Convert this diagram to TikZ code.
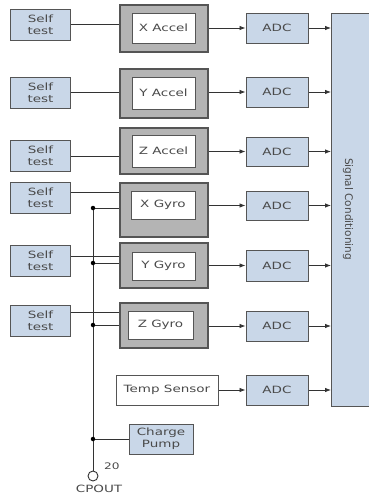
\documentclass[tikz,border=0pt]{standalone}
\usepackage{fontspec}
\setmainfont{DejaVu Sans}[FakeStretch=1.35]
\newfontfamily\plainfont{DejaVu Sans}
\usetikzlibrary{arrows.meta}
\definecolor{bluef}{HTML}{C9D7E8}
\definecolor{grayf}{HTML}{B4B4B4}
\definecolor{bordc}{HTML}{555555}
\definecolor{txtc}{HTML}{4A4A4A}
\definecolor{linec}{HTML}{333333}
\tikzset{
  base/.style={draw=bordc, line width=1pt, inner sep=0pt, text=txtc, align=center,
    font=\fontsize{10}{12}\selectfont},
  stbox/.style={base, fill=bluef},
  outerbox/.style={draw=bordc, fill=grayf, line width=1.3pt, inner sep=0pt},
  innerbox/.style={base, fill=white},
  ln/.style={draw=linec, line width=0.8pt},
  arr/.style={ln, -{Latex[length=6pt,width=4.5pt]}},
  dot/.style={circle, fill=black, inner sep=0pt, minimum size=4.5pt},
}
\begin{document}
\begin{tikzpicture}[x=1pt,y=-1pt]
\useasboundingbox[fill=white] (0,0) rectangle (369,498);
% signal conditioning
\path[fill=bluef, draw=bordc, line width=1pt] (331,13) rectangle (374,406);
\node[rotate=-90, text=txtc, font=\plainfont\fontsize{10.5}{12}\selectfont] (sig) at (348,209) {Signal Conditioning};
\coordinate (sigw) at (331,200);
% self test boxes
\node[stbox, minimum width=60pt, minimum height=31pt] (st1) at (40.5,24.5) {Self\\test};
\node[stbox, minimum width=60pt, minimum height=31pt] (st2) at (40.5,92.5) {Self\\test};
\node[stbox, minimum width=60pt, minimum height=31pt] (st3) at (40.5,156) {Self\\test};
\node[stbox, minimum width=60pt, minimum height=31pt] (st4) at (40.5,197.5) {Self\\test};
\node[stbox, minimum width=60pt, minimum height=31pt] (st5) at (40.5,261) {Self\\test};
\node[stbox, minimum width=60pt, minimum height=31pt] (st6) at (40.5,321) {Self\\test};
% sensor outer boxes
\node[outerbox, minimum width=88pt, minimum height=47pt] (xa) at (164,28.5) {};
\node[outerbox, minimum width=88pt, minimum height=49pt] (ya) at (164,93.5) {};
\node[outerbox, minimum width=88pt, minimum height=46pt] (za) at (164,151) {};
\node[outerbox, minimum width=88pt, minimum height=54pt] (xg) at (164,210) {};
\node[outerbox, minimum width=88pt, minimum height=45pt] (yg) at (164,265.5) {};
\node[outerbox, minimum width=88pt, minimum height=45pt] (zg) at (164,325.5) {};
% inner boxes
\node[innerbox, minimum width=63pt, minimum height=30pt] (xai) at (163.5,28) {X Accel};
\node[innerbox, minimum width=63pt, minimum height=32pt] (yai) at (163.5,93) {Y Accel};
\node[innerbox, minimum width=63pt, minimum height=32pt] (zai) at (163.5,151) {Z Accel};
\node[innerbox, minimum width=64pt, minimum height=28pt] (xgi) at (163,205) {X Gyro};
\node[innerbox, minimum width=63pt, minimum height=28pt] (ygi) at (163.5,266) {Y Gyro};
\node[innerbox, minimum width=65pt, minimum height=28pt] (zgi) at (160.5,325) {Z Gyro};
\node[innerbox, minimum width=102pt, minimum height=30pt] (temp) at (167,390) {Temp Sensor};
% ADCs
\node[stbox, minimum width=62pt, minimum height=30pt] (adc1) at (277,28) {ADC};
\node[stbox, minimum width=62pt, minimum height=30pt] (adc2) at (277,92) {ADC};
\node[stbox, minimum width=62pt, minimum height=29pt] (adc3) at (277,151.5) {ADC};
\node[stbox, minimum width=62pt, minimum height=29pt] (adc4) at (277,205.5) {ADC};
\node[stbox, minimum width=62pt, minimum height=31pt] (adc5) at (277,265.5) {ADC};
\node[stbox, minimum width=62pt, minimum height=30pt] (adc6) at (277,326) {ADC};
\node[stbox, minimum width=62pt, minimum height=30pt] (adc7) at (277,390) {ADC};
% charge pump
\node[stbox, minimum width=64pt, minimum height=30pt] (cpump) at (161,439) {Charge\\Pump};
% self test connections
\draw[ln] (st1.east) -- (st1.east -| xa.west);
\draw[ln] (st2.east) -- (st2.east -| ya.west);
\draw[ln] (st3.east) -- (st3.east -| za.west);
\draw[ln] ([yshift=5.5pt]st4.east) -- ([yshift=5.5pt]st4.east -| xg.west);
\draw[ln] ([yshift=5pt]st5.east) -- ([yshift=5pt]st5.east -| yg.west);
\draw[ln] ([yshift=9pt]st6.east) -- ([yshift=9pt]st6.east -| zg.west);
% sensor to ADC
\draw[arr] (xa.east |- adc1.west) -- (adc1.west);
\draw[arr] (ya.east |- adc2.west) -- (adc2.west);
\draw[arr] (za.east |- adc3.west) -- (adc3.west);
\draw[arr] (xg.east |- adc4.west) -- (adc4.west);
\draw[arr] (yg.east |- adc5.west) -- (adc5.west);
\draw[arr] (zg.east |- adc6.west) -- (adc6.west);
\draw[arr] (temp.east |- adc7.west) -- (adc7.west);
% ADC to signal conditioning
\foreach \i in {1,...,7}{\draw[arr] (adc\i.east) -- (adc\i.east -| sigw);}
% charge pump bus
\coordinate (d4) at (93,208);
\coordinate (d5) at (93,263);
\coordinate (d6) at (93,325);
\coordinate (dcp) at (93,439);
\node[circle, draw=linec, line width=0.9pt, minimum size=10pt, inner sep=0pt] (cp) at (93,476) {};
\draw[ln] (d4) -- (cp.north);
\draw[ln] (d4) -- (d4 -| xg.west);
\draw[ln] (d5) -- (d5 -| yg.west);
\draw[ln] (d6) -- (d6 -| zg.west);
\draw[ln] (dcp) -- (cpump.west);
\foreach \d in {d4,d5,d6,dcp}{\node[dot] at (\d) {};}
\node[anchor=west, text=txtc, inner sep=0pt, font=\fontsize{9}{10}\selectfont] (n20) at (104,466) {20};
\node[text=txtc, inner sep=0pt, font=\fontsize{10}{12}\selectfont] (cpout) at (99,489) {CPOUT};
\end{tikzpicture}
\end{document}
